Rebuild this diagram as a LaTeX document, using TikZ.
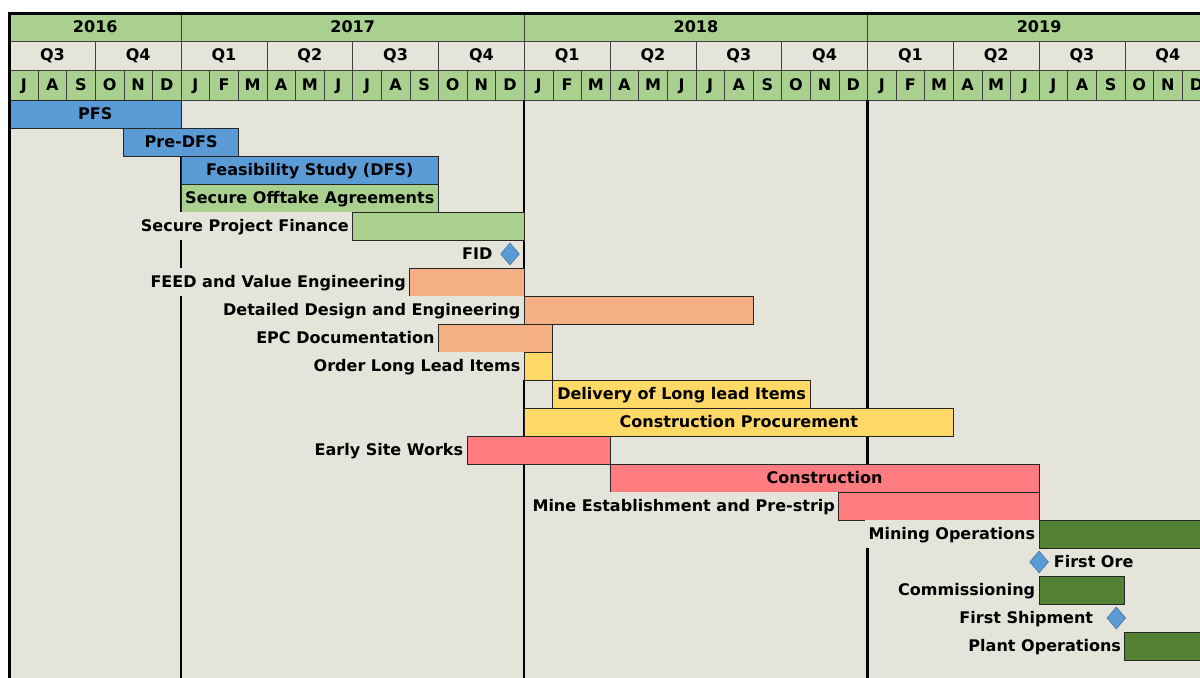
\documentclass[tikz,border=0pt]{standalone}
\usepackage{fontspec}
\setmainfont{DejaVu Sans}
\usepackage{tikz}
\usetikzlibrary{positioning, shapes.geometric}
\definecolor{bgcolor}{RGB}{228,228,218}
\definecolor{hdrcolor}{RGB}{169,208,142}
\definecolor{dfscolor}{RGB}{91,155,213}
\definecolor{engcolor}{RGB}{244,176,132}
\definecolor{proccolor}{RGB}{255,217,102}
\definecolor{conscolor}{RGB}{255,124,128}
\definecolor{opscolor}{RGB}{84,130,53}
\definecolor{mscolor}{RGB}{65,113,156}

\tikzset{
  cell/.style={draw=black!75, line width=0.5pt},
  bar/.style={draw=black!85, line width=0.6pt},
  lbl/.style={anchor=east, fill=bgcolor, inner xsep=2.6pt, inner ysep=0pt, minimum height=0.68cm},
  mslbl/.style={inner xsep=2pt, inner ysep=0pt},
  milestone/.style={diamond, draw=mscolor, fill=dfscolor, inner sep=0pt, text height=0pt,
    minimum width=0.47cm, minimum height=0.55cm}
}

\begin{document}
\begin{tikzpicture}[x=0.715cm, y=-0.7cm, font=\bfseries\fontsize{11.4}{13}\selectfont,
    every node/.append style={text height=0.73em, text depth=0pt}]
  \useasboundingbox (-0.332,-3.571) rectangle (41.626,20.643);
  \clip (-0.332,-3.571) rectangle (41.626,20.643);
  \fill[white] (-0.332,-3.571) rectangle (41.626,20.643);
  \fill[bgcolor] (0,-3.09) rectangle (43,21);

  % years
  \foreach \yr/\a/\b in {2016/0/6, 2017/6/18, 2018/18/30, 2019/30/42} {
    \draw[cell, fill=hdrcolor] (\a,-3.09) rectangle (\b,-2.107);
    \node (y\yr) at ({(\a+\b)/2},-2.6) {\yr};
  }
  % quarters
  \foreach \q [count=\i from 0] in {3,4,1,2,3,4,1,2,3,4,1,2,3,4} {
    \draw[cell] (3*\i,-2.107) rectangle (3*\i+3,-1.071);
    \node (q\i) at (3*\i+1.5,-1.589) {Q\q};
  }
  % months
  \foreach \m [count=\i from 0] in {J,A,S,O,N,D,J,F,M,A,M,J,J,A,S,O,N,D,J,F,M,A,M,J,J,A,S,O,N,D,J,F,M,A,M,J,J,A,S,O,N,D} {
    \draw[cell, fill=hdrcolor] (\i,-1.071) rectangle (\i+1,0);
    \node (m\i) at (\i+0.5,-0.535) {\m};
  }

  % year lines
  \foreach \x in {6,18,30}
    \draw[line width=1.6pt] (\x,0) -- (\x,21);

  % studies
  \draw[bar, fill=dfscolor] (0,0) rectangle (6,1);
  \node (pfs) at (3,0.5) {PFS};
  \draw[bar, fill=dfscolor] (4,1) rectangle (8,2);
  \node (predfs) at (6,1.5) {Pre-DFS};
  \draw[bar, fill=dfscolor] (6,2) rectangle (15,3);
  \node (dfs) at (10.5,2.5) {Feasibility Study (DFS)};
  \draw[bar, fill=hdrcolor] (6,3) rectangle (15,4);
  \node (offtake) at (10.5,3.5) {Secure Offtake Agreements};
  \node[lbl] (finlbl) at (12,4.5) {Secure Project Finance};
  \draw[bar, fill=hdrcolor] (12,4) rectangle (18,5);
  % FID
  \node[milestone] (fid) at (17.5,5.5) {};
  \node[mslbl, left=0.12cm of fid] (fidlbl) {FID};

  % engineering
  \node[lbl] (feedlbl) at (14,6.5) {FEED and Value Engineering};
  \draw[bar, fill=engcolor] (14,6) rectangle (18,7);
  \node[lbl] (designlbl) at (18,7.5) {Detailed Design and Engineering};
  \draw[bar, fill=engcolor] (18,7) rectangle (26,8);
  \node[lbl] (epclbl) at (15,8.5) {EPC Documentation};
  \draw[bar, fill=engcolor] (15,8) rectangle (19,9);

  % procurement
  \node[lbl] (orderlbl) at (18,9.5) {Order Long Lead Items};
  \draw[bar, fill=proccolor] (18,9) rectangle (19,10);
  \draw[bar, fill=proccolor] (19,10) rectangle (28,11);
  \node (delivery) at (23.5,10.5) {Delivery of Long lead Items};
  \draw[bar, fill=proccolor] (18,11) rectangle (33,12);
  \node (procure) at (25.5,11.5) {Construction Procurement};

  % construction
  \node[lbl] (sitelbl) at (16,12.5) {Early Site Works};
  \draw[bar, fill=conscolor] (16,12) rectangle (21,13);
  \draw[bar, fill=conscolor] (21,13) rectangle (36,14);
  \node (constr) at (28.5,13.5) {Construction};
  \node[lbl] (minelbl) at (29,14.5) {Mine Establishment and Pre-strip};
  \draw[bar, fill=conscolor] (29,14) rectangle (36,15);

  % operations
  \node[lbl] (mininglbl) at (36,15.5) {Mining Operations};
  \draw[bar, fill=opscolor] (36,15) rectangle (43,16);
  \node[milestone] (ore) at (36,16.5) {};
  \node[mslbl, right=0.05cm of ore] (orelbl) {First Ore};
  \node[lbl] (commlbl) at (36,17.5) {Commissioning};
  \draw[bar, fill=opscolor] (36,17) rectangle (39,18);
  \node[milestone] (ship) at (38.7,18.5) {};
  \node[mslbl, left=0.26cm of ship] (shiplbl) {First Shipment};
  \node[lbl] (plantlbl) at (39,19.5) {Plant Operations};
  \draw[bar, fill=opscolor] (39,19) rectangle (43,20);

  % border
  \draw[line width=2.1pt] (0,21) -- (0,-3.09) -- (43,-3.09);
\end{tikzpicture}
\end{document}
